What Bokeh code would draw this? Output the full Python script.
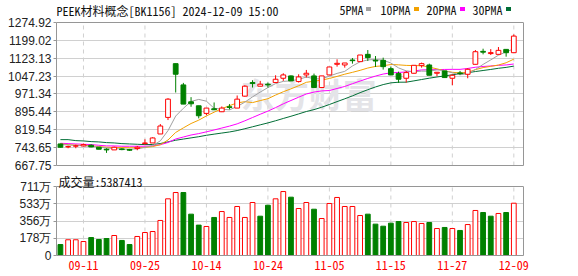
from bokeh.plotting import figure
from bokeh.layouts import column
from bokeh.models import (FixedTicker, Label, ColumnDataSource, Range1d, PrintfTickFormatter,
                          LinearAxis, Span)
from bokeh.embed import file_html
from bokeh.resources import INLINE

title_text = "PEEK材料概念[BK1156] 2024-12-09 15:00"
last_volume = 5387413

dates = ["09-06", "09-09", "09-10", "09-11", "09-12", "09-13", "09-18", "09-19", "09-20", "09-23",
         "09-24", "09-25", "09-26", "09-27", "09-30", "10-08", "10-09", "10-10", "10-11", "10-14",
         "10-15", "10-16", "10-17", "10-18", "10-21", "10-22", "10-23", "10-24", "10-25", "10-28",
         "10-29", "10-30", "10-31", "11-01", "11-04", "11-05", "11-06", "11-07", "11-08", "11-11",
         "11-12", "11-13", "11-14", "11-15", "11-18", "11-19", "11-20", "11-21", "11-22", "11-25",
         "11-26", "11-27", "11-28", "11-29", "12-02", "12-03", "12-04", "12-05", "12-06", "12-09"]

opens = [759.3, 746.8, 750.0, 750.9, 753.7, 745.2, 736.8, 734.0, 738.2, 735.4,
         739.6, 760.7, 763.5, 801.6, 872.0, 1100.2, 1010.0, 938.2, 921.3, 889.0,
         908.6, 896.0, 917.1, 911.5, 962.2, 1019.9, 1004.4, 1012.9, 1019.9, 1038.2,
         1048.1, 1024.1, 1052.3, 1048.1, 998.8, 1052.3, 1097.4, 1094.6, 1115.7, 1108.7,
         1139.7, 1114.3, 1114.3, 1079.0, 1058.0, 1038.2, 1059.4, 1091.8, 1094.6, 1059.4,
         1069.2, 1038.2, 1060.8, 1055.1, 1097.4, 1152.4, 1143.0, 1139.7, 1160.8, 1146.7]
highs = [760.0, 752.0, 756.5, 760.7, 757.9, 745.2, 741.0, 748.0, 741.0, 738.2,
         750.9, 779.0, 787.5, 843.8, 953.7, 1100.2, 1018.5, 958.0, 921.3, 911.5,
         935.4, 918.5, 928.4, 965.0, 1008.7, 1029.8, 1027.0, 1020.0, 1050.9, 1059.4,
         1050.0, 1055.1, 1073.5, 1058.0, 1048.1, 1086.1, 1118.5, 1103.0, 1124.2, 1136.9,
         1158.0, 1132.6, 1125.6, 1087.5, 1066.4, 1069.2, 1093.2, 1104.5, 1100.2, 1065.0,
         1069.2, 1055.0, 1069.3, 1080.5, 1158.0, 1163.6, 1162.0, 1170.7, 1160.8, 1224.2]
lows = [744.0, 741.0, 741.0, 749.5, 745.2, 736.8, 721.3, 734.0, 732.6, 729.8,
        732.6, 756.5, 763.5, 801.6, 860.7, 977.7, 928.4, 917.1, 867.8, 881.9,
        903.0, 894.6, 905.8, 911.5, 959.4, 998.8, 1004.4, 998.8, 1019.9, 1027.0,
        1027.0, 1019.9, 1041.1, 998.8, 998.8, 1052.3, 1087.5, 1083.3, 1100.2, 1108.7,
        1111.5, 1086.1, 1075.0, 1052.3, 1018.5, 1019.9, 1058.0, 1083.3, 1050.9, 1046.7,
        1041.1, 1008.6, 1052.3, 1038.2, 1097.4, 1139.7, 1137.0, 1139.7, 1129.8, 1146.7]
closes = [745.2, 748.0, 750.9, 756.5, 746.6, 736.8, 734.0, 745.2, 735.4, 732.6,
          745.2, 763.5, 784.7, 835.4, 949.5, 1055.2, 928.4, 929.8, 879.0, 911.5,
          904.4, 911.5, 914.3, 949.5, 1004.5, 1015.7, 1012.9, 1010.0, 1034.0, 1052.3,
          1027.0, 1043.9, 1059.4, 998.8, 1048.1, 1086.1, 1101.6, 1103.0, 1112.9, 1136.9,
          1125.6, 1111.5, 1087.5, 1052.3, 1034.0, 1062.2, 1093.2, 1100.2, 1050.9, 1063.6,
          1041.1, 1050.9, 1058.0, 1076.3, 1150.9, 1149.0, 1147.0, 1156.6, 1146.7, 1217.2]

# volume in 万
volumes = [113, 162, 162, 144, 185, 165, 175, 206, 155, 113,
           196, 237, 247, 361, 584, 649, 649, 426, 313, 299,
           392, 453, 392, 505, 392, 546, 405, 518, 584, 659,
           601, 484, 546, 477, 381, 536, 598, 505, 505, 412,
           426, 323, 302, 333, 350, 340, 350, 330, 340, 278,
           289, 278, 258, 319, 464, 443, 405, 433, 443, 538.74]
vol_up = [0, 1, 1, 1, 0, 0, 0, 1, 0, 0,
          1, 1, 1, 1, 1, 1, 0, 0, 0, 1,
          0, 1, 1, 1, 1, 1, 0, 0, 1, 1,
          0, 1, 1, 0, 1, 1, 1, 1, 1, 1,
          0, 0, 0, 0, 0, 1, 1, 1, 0, 1,
          0, 1, 0, 1, 1, 0, 0, 1, 0, 1]

ma5 = [756.5, 755.1, 753.7, 750.9, 749.0, 746.0, 742.0, 740.0, 737.5, 736.8,
       738.5, 744.4, 752.3, 772.3, 815.7, 877.7, 910.6, 939.7, 948.4, 940.8,
       910.6, 907.2, 904.1, 918.2, 936.8, 959.1, 979.4, 998.5, 1015.4, 1025.0,
       1027.2, 1033.4, 1043.3, 1036.3, 1035.4, 1047.3, 1058.8, 1067.5, 1090.3, 1108.1,
       1116.0, 1118.0, 1114.9, 1102.8, 1082.2, 1069.5, 1065.8, 1068.4, 1068.1, 1074.0,
       1069.8, 1061.3, 1052.9, 1058.0, 1075.4, 1097.0, 1116.2, 1136.0, 1150.0, 1163.3]
ma10 = [759.3, 756.5, 753.7, 753.7, 750.9, 748.1, 745.2, 743.8, 743.8, 743.1,
        743.1, 744.7, 748.1, 755.9, 776.2, 808.1, 827.5, 846.0, 860.3, 878.2,
        894.1, 908.9, 921.9, 933.3, 938.8, 934.9, 943.3, 951.3, 966.8, 980.9,
        993.2, 1006.4, 1020.9, 1025.9, 1030.2, 1037.3, 1046.1, 1055.4, 1063.3, 1071.8,
        1081.6, 1088.4, 1091.2, 1096.6, 1095.1, 1092.8, 1091.9, 1091.6, 1085.4, 1078.1,
        1069.7, 1063.6, 1060.6, 1063.0, 1074.7, 1083.4, 1088.8, 1094.4, 1104.0, 1119.4]
ma20 = [762.1, 760.7, 759.3, 757.9, 756.5, 753.7, 750.9, 750.9, 749.5, 749.5,
        749.5, 749.5, 751.0, 756.0, 765.5, 780.3, 788.7, 797.2, 803.2, 810.7,
        818.6, 826.8, 835.0, 844.6, 857.5, 871.5, 885.4, 898.7, 913.6, 929.6,
        943.7, 957.7, 971.4, 979.6, 984.5, 986.1, 994.7, 1003.4, 1015.1, 1026.3,
        1037.4, 1047.4, 1056.1, 1061.2, 1062.7, 1065.0, 1069.0, 1073.5, 1074.4, 1074.9,
        1075.6, 1076.0, 1075.9, 1079.8, 1084.9, 1088.1, 1090.4, 1093.0, 1094.7, 1098.7]
ma30 = [777.6, 777.6, 773.4, 772.0, 769.2, 767.8, 765.0, 763.5, 760.7, 759.3,
        757.9, 756.5, 757.0, 761.0, 768.0, 775.0, 780.0, 785.0, 790.0, 796.0,
        800.9, 805.5, 810.1, 816.1, 823.9, 832.1, 840.4, 848.6, 857.7, 867.4,
        876.8, 886.7, 897.0, 905.0, 915.1, 926.7, 939.0, 950.9, 963.5, 977.0,
        989.6, 1001.2, 1011.3, 1018.6, 1021.4, 1021.6, 1027.1, 1032.8, 1038.5, 1043.6,
        1048.2, 1052.8, 1057.6, 1061.8, 1066.7, 1071.1, 1075.6, 1080.5, 1084.3, 1089.7]

price_ticks = [667.75, 743.65, 819.54, 895.44, 971.34, 1047.23, 1123.13, 1199.02, 1274.92]
vol_ticks = [0, 177.75, 355.5, 533.25, 711]
vol_tick_labels = ["0", "178万", "356万", "533万", "711万"]
date_tick_idx = [3, 11, 19, 27, 35, 43, 51, 59]

ma_names = ["5PMA", "10PMA", "20PMA", "30PMA"]
ma_colors = ["#a0a0a0", "#f2a100", "#ff00ff", "#006e36"]

RED = "#ff0000"
GREEN = "#008000"
GRID = "#d0d0d0"
FRAME = "#969696"
MONO = "'Noto Sans Mono CJK SC', 'DejaVu Sans Mono', monospace"
SANS = "Liberation Sans"
TXT = "#111111"

# layout (pixels)
W = 578
LEFT, RIGHT = 56, 55
FRAME_W = W - LEFT - RIGHT
P_TOP_PX, P_BOT_PX = 22, 165          # price data area inside a frame that starts at y=0
P_H = 172
V_FRAME_TOP, V_BOT = P_H, 255          # volume frame (canvas coordinates)
V_H = 276 - P_H
XR = (-0.51, 60.26)

ppx = (price_ticks[-1] - price_ticks[0]) / (P_BOT_PX - P_TOP_PX)
price_top = price_ticks[-1] + P_TOP_PX * ppx
v_frame_h = V_BOT - V_FRAME_TOP
vol_top = vol_ticks[-1] * v_frame_h / (V_BOT - 186)

def fx(px):
    return XR[0] + (px - LEFT) * (XR[1] - XR[0]) / FRAME_W

def fy(py):
    return price_top - py * ppx

n = len(closes)
xs = list(range(n))
up = [c >= o for o, c in zip(opens, closes)]
csrc = ColumnDataSource(dict(
    x=xs,
    top=[max(o, c) for o, c in zip(opens, closes)],
    bottom=[min(o, c) for o, c in zip(opens, closes)],
    high=highs, low=lows,
    line=[RED if u else GREEN for u in up],
    fill=["#ffffff" if u else GREEN for u in up],
))
vsrc = ColumnDataSource(dict(
    x=xs, top=volumes,
    line=[RED if u else GREEN for u in vol_up],
    fill=["#ffffff" if u else GREEN for u in vol_up],
))


def style_frame(fig, lo, hi, ticks):
    fig.background_fill_color = "white"
    fig.border_fill_color = "white"
    fig.outline_line_color = None
    fig.xgrid.visible = False
    fig.yaxis.ticker = FixedTicker(ticks=ticks)
    fig.ygrid.ticker = FixedTicker(ticks=ticks)
    fig.ygrid.grid_line_color = GRID
    fig.yaxis.bounds = (lo, hi)
    fig.yaxis.axis_line_color = FRAME
    fig.yaxis.major_tick_line_color = FRAME
    fig.yaxis.major_tick_out = 3
    fig.yaxis.major_tick_in = 0
    fig.yaxis.minor_tick_line_color = None
    fig.yaxis.major_label_text_font = SANS
    fig.yaxis.major_label_text_font_size = "12px"
    fig.yaxis.major_label_text_color = "#222222"
    fig.yaxis.major_label_standoff = 2
    fig.xaxis.axis_line_color = FRAME
    fig.xaxis.major_tick_line_color = None
    fig.xaxis.minor_tick_line_color = None
    ra = LinearAxis(bounds=(lo, hi), ticker=FixedTicker(ticks=[]), axis_line_color=FRAME,
                    major_tick_line_color=None, minor_tick_line_color=None,
                    major_label_text_font_size="0px", major_label_standoff=0)
    fig.add_layout(ra, "right")
    fig.add_layout(Span(location=hi, dimension="width", line_color=FRAME, line_width=1))
    # vertical dashed grid lines at the date ticks
    fig.segment(x0=date_tick_idx, y0=[lo] * len(date_tick_idx), x1=date_tick_idx,
                y1=[hi] * len(date_tick_idx), line_color=GRID, line_dash="4 4", line_width=1)


# ---------------- price panel ----------------
p = figure(width=W, height=P_H, x_range=Range1d(*XR), y_range=Range1d(price_ticks[0], price_top),
           output_backend="svg", toolbar_location=None,
           min_border_left=LEFT, min_border_right=RIGHT, min_border_top=0,
           min_border_bottom=P_H - P_BOT_PX)
style_frame(p, price_ticks[0], price_ticks[-1], price_ticks)
p.yaxis.formatter = PrintfTickFormatter(format="%.2f")
p.xaxis.ticker = FixedTicker(ticks=[])
p.xaxis.major_label_text_font_size = "0px"
p.xaxis.major_label_standoff = 0

p.add_layout(Label(x=32.3, y=973.5, text="东方财富", text_font="Noto Sans CJK SC",
                   text_font_size="34px", text_font_style="bold", text_color="#e4e4e8",
                   text_align="center", text_baseline="middle", level="underlay"))

for vals, col in zip([ma30, ma20, ma10, ma5], ma_colors[::-1]):
    p.line(xs, vals, line_color=col, line_width=1)

p.segment(x0="x", y0="high", x1="x", y1="low", source=csrc, line_color="line", line_width=1)
p.vbar(x="x", top="top", bottom="bottom", width=0.62, source=csrc,
       fill_color="fill", line_color="line", line_width=1)

# header: title and MA legend
p.add_layout(Label(x=0, y=P_BOT_PX - 10, x_units="screen", y_units="screen", text=title_text,
                   text_font=MONO, text_font_size="12px", text_color=TXT,
                   text_baseline="middle", text_align="left"))
leg_x = [339, 380, 426, 472]
sq_x = [368, 416, 462, 508]
for name, lx in zip(ma_names, leg_x):
    p.add_layout(Label(x=lx - LEFT, y=P_BOT_PX - 9, x_units="screen", y_units="screen", text=name,
                       text_font=MONO, text_font_size="12px", text_color=TXT,
                       text_baseline="middle", text_align="left"))
p.rect(x=[fx(s) for s in sq_x], y=[fy(8.5)] * 4, width=5, height=4,
       width_units="screen", height_units="screen", fill_color=ma_colors, line_color=None)

# ---------------- volume panel ----------------
v = figure(width=W, height=V_H, x_range=p.x_range, y_range=Range1d(0, vol_top),
           output_backend="svg", toolbar_location=None,
           min_border_left=LEFT, min_border_right=RIGHT, min_border_top=0,
           min_border_bottom=276 - V_BOT)
style_frame(v, vol_ticks[0], vol_ticks[-1], vol_ticks)
v.yaxis.major_label_overrides = {t: s for t, s in zip(vol_ticks, vol_tick_labels)}
v.xaxis.ticker = FixedTicker(ticks=date_tick_idx)
v.xaxis.major_label_overrides = {i: dates[i] for i in date_tick_idx}
v.xaxis.major_label_text_font = MONO
v.xaxis.major_label_text_font_size = "12px"
v.xaxis.major_label_text_color = RED
v.xaxis.major_tick_out = 0
v.xaxis.major_tick_in = 0
v.xaxis.major_label_standoff = 5

v.vbar(x="x", top="top", bottom=0, width=0.62, source=vsrc,
       fill_color="fill", line_color="line", line_width=1)

v.add_layout(Label(x=2, y=V_BOT - 181, x_units="screen", y_units="screen",
                   text="成交量:" + str(last_volume),
                   text_font=MONO, text_font_size="12px", text_color=TXT,
                   text_baseline="middle", text_align="left"))

layout = column(p, v, spacing=0)
open("out.html", "w").write(file_html(layout, INLINE))
